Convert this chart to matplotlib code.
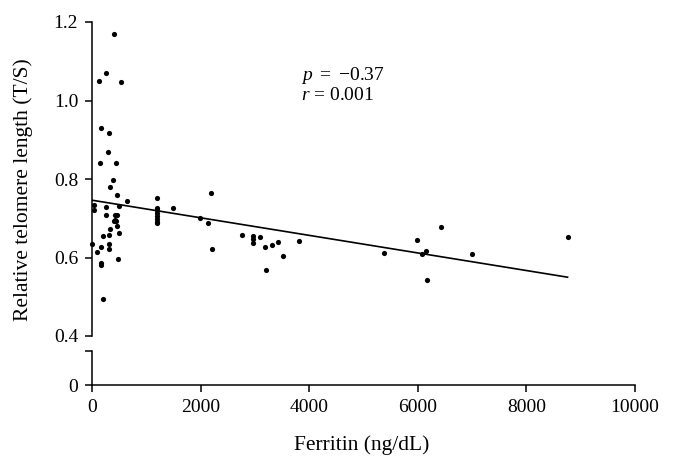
import matplotlib
matplotlib.use("Agg")
import matplotlib.pyplot as plt

plt.rcParams['font.family'] = ['Liberation Serif', 'DejaVu Serif']
plt.rcParams['mathtext.fontset'] = 'custom'
plt.rcParams['mathtext.it'] = 'Liberation Serif:italic'
plt.rcParams['mathtext.rm'] = 'Liberation Serif'

# Data (ferritin ng/dL, relative telomere length T/S)
ferritin = [405, 123, 263, 540, 160, 307, 289, 153, 442, 392, 337, 460, 650,
            1190, 37, 37, 263, 502, 1190, 1190, 423, 455, 258, 1190,
            423, 436, 410, 1190, 1190, 1190, 1190, 331, 454, 491, 210,
            306, 5, 172, 313, 319, 92, 484, 168, 173, 205,
            1496, 1987, 2129, 2189, 2214, 2760, 2957, 2957, 2957, 3091,
            3195, 3207, 3324, 3428, 3520, 3809, 5372, 5986, 6084, 6145,
            6170, 6421, 6992, 8758]
telomere = [1.170, 1.049, 1.070, 1.048, 0.929, 0.917, 0.868, 0.840, 0.840, 0.797,
            0.779, 0.759, 0.744, 0.752, 0.733, 0.720, 0.729, 0.730, 0.727, 0.720,
            0.709, 0.709, 0.709, 0.714, 0.695, 0.694, 0.694, 0.707, 0.698, 0.690,
            0.688, 0.673, 0.680, 0.662, 0.656, 0.657, 0.635, 0.627, 0.634, 0.621,
            0.614, 0.597, 0.585, 0.580, 0.493,
            0.725, 0.701, 0.689, 0.765, 0.622, 0.658, 0.655, 0.648, 0.638, 0.652,
            0.628, 0.567, 0.632, 0.639, 0.605, 0.642, 0.612, 0.645, 0.608, 0.616,
            0.543, 0.678, 0.610, 0.651]

fit_intercept = 0.746
fit_slope = -2.24e-5
fit_range = [0, 8758]

x_ticks = [0, 2000, 4000, 6000, 8000, 10000]
y_ticks_top = [0.4, 0.6, 0.8, 1.0, 1.2]
y_labels_top = ['0.4', '0.6', '0.8', '1.0', '1.2']

W, H = 675, 470
fig = plt.figure(figsize=(W / 100, H / 100), dpi=100)
L, R = 92 / W, 635 / W
ax = fig.add_axes([L, 1 - 336 / H, R - L, (336 - 22) / H])
axb = fig.add_axes([L, 1 - 385 / H, R - L, (385 - 351) / H])

fs = 14
for a in (ax, axb):
    a.set_xlim(0, 10000)
    for s in ('top', 'right'):
        a.spines[s].set_visible(False)
    for s in ('left', 'bottom'):
        a.spines[s].set_linewidth(1.1)
    a.tick_params(direction='out', length=5, width=1.1, labelsize=fs, pad=5, colors='black')
    a.patch.set_alpha(0)

ax.spines['bottom'].set_visible(False)
ax.tick_params(axis='x', bottom=False, labelbottom=False)
ax.set_ylim(0.4, 1.2)
ax.set_yticks(y_ticks_top)
ax.set_yticklabels(y_labels_top)

axb.set_ylim(0, 0.087)
axb.set_yticks([0, 0.087])
axb.set_yticklabels(['0', ''])
axb.set_xticks(x_ticks)
axb.set_xticklabels([str(v) for v in x_ticks])

ax.scatter(ferritin, telomere, s=14, color='black', linewidths=0, clip_on=False, zorder=3)
line_y = [fit_intercept + fit_slope * v for v in fit_range]
ax.plot(fit_range, line_y, color='black', lw=1.2)

ax.text(0.385, 0.83, r'$p$ $=$ $-$0.37', transform=ax.transAxes, fontsize=fs,
        ha='left', va='center')
ax.text(0.385, 0.765, r'$r$ = 0.001', transform=ax.transAxes, fontsize=fs,
        ha='left', va='center')

fig.text(23 / W, 1 - 190 / H, 'Relative telomere length (T/S)', rotation=90,
         ha='center', va='center', fontsize=15.5)
fig.text(362 / W, 1 - 445 / H, 'Ferritin (ng/dL)', ha='center', va='center', fontsize=15.5)

fig.savefig('out.png', dpi=100)
